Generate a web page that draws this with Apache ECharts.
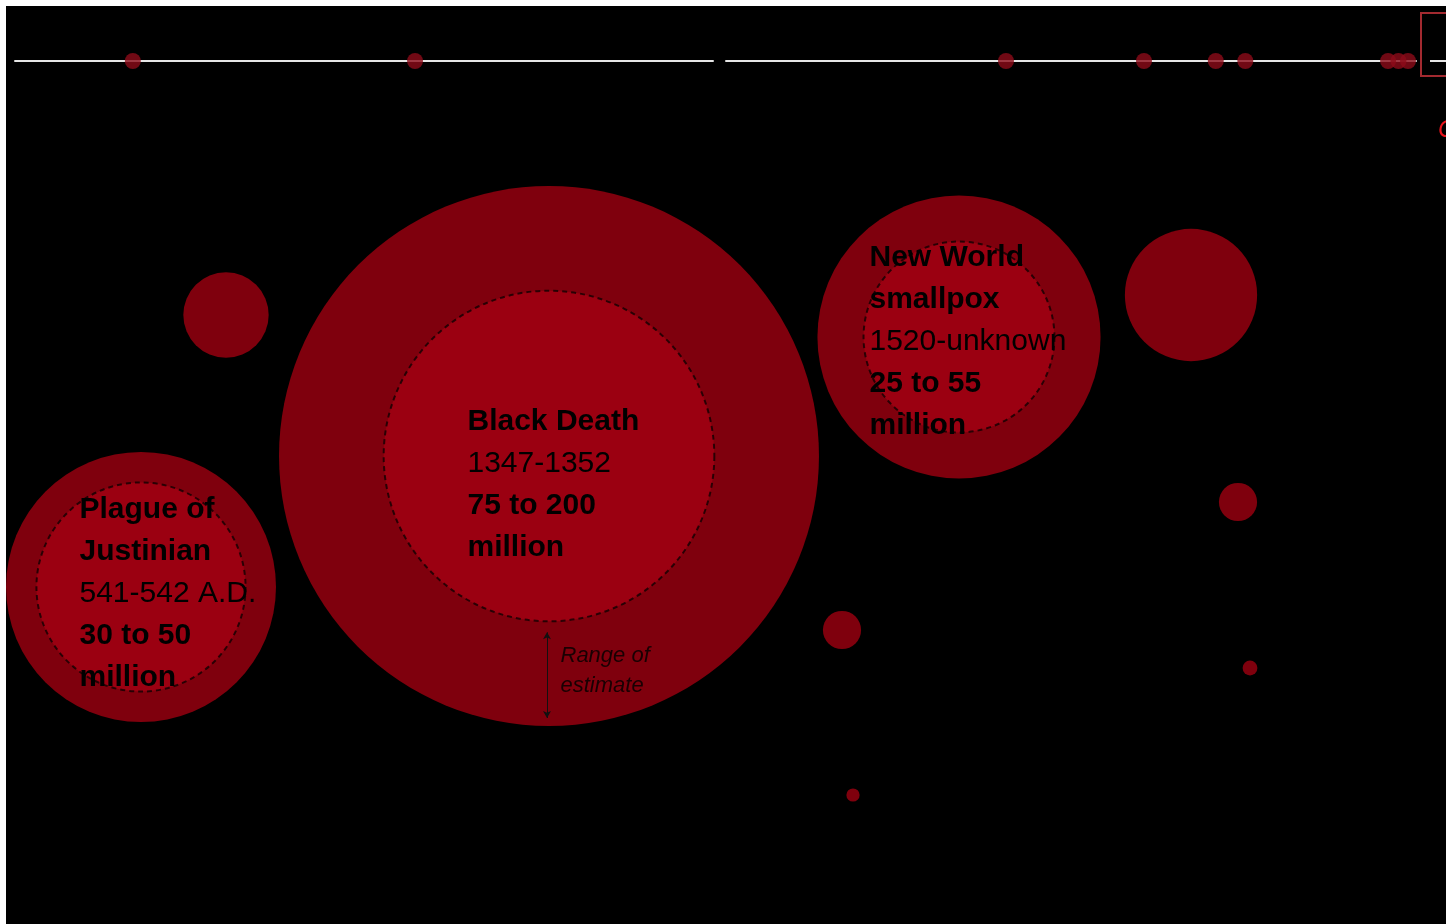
<!DOCTYPE html>
<html>
<head>
<meta charset="utf-8">
<title>Pandemics</title>
<script src="https://cdn.jsdelivr.net/npm/echarts@6.0.0/dist/echarts.min.js"></script>
<style>
  html, body { margin: 0; padding: 0; background: #fff; }
  #chart { position: absolute; left: 6px; top: 6px; width: 1440px; height: 918px; background: #000; }
</style>
</head>
<body>
<div id="chart"></div>
<script>
// timeline, in years, split in two segments
const leftRange = [8, 938];
const rightRange = [996, 1861];
const timelineYears = [165, 541, 1347, 1520, 1610, 1647, 1826, 1839, 1851];

// bubbles: deaths in millions (low / high estimate)
const titles = ['Plague of\nJustinian', 'Black Death', 'New World\nsmallpox', '', '', '', '', '', ''];
const periods = ['541-542 A.D.', '1347-1352', '1520-unknown', '', '', '', '', '', ''];
const deathsLow = [30, 75, 25, 5, 12, 1, 1, 0.15, 0.12];
const deathsHigh = [50, 200, 55, 5, 12, 1, 1, 0.15, 0.12];
// bubble layout (packed by hand in the original)
const bubbleX = [141, 549, 959, 226, 1191, 1238, 842, 1250, 853];
const bubbleY = [587, 456, 337, 315, 295, 502, 630, 668, 795];

const K = 19.09; // px radius per sqrt(million)
const FONT = '"Liberation Sans", Arial, sans-serif';

// where the label block starts, relative to the bubble centre
const labelOffset = [[-61, -98], [-81, -55], [-89, -100]];

const outerData = bubbleX.map((x, i) => [x, bubbleY[i], deathsHigh[i]]);
const innerData = bubbleX.map((x, i) => [x, bubbleY[i], deathsLow[i]])
  .filter((d, i) => deathsLow[i] < deathsHigh[i]);

const labelData = [];
titles.forEach((t, i) => {
  if (!t) return;
  labelData.push({
    value: [bubbleX[i], bubbleY[i]],
    text: t.split('\n').map(s => '{b|' + s + '}').join('\n') + '\n' +
      '{r|' + periods[i] + '}\n' +
      '{b|' + deathsLow[i] + ' to ' + deathsHigh[i] + '}\n{b|million}',
    label: { position: labelOffset[labelData.length] }
  });
});

// range-of-estimate arrow on the Black Death bubble
const bd = 1;
const rIn = K * Math.sqrt(deathsLow[bd]);
const rOut = K * Math.sqrt(deathsHigh[bd]);
const arrowX = bubbleX[bd] - 2;

const dotStyle = { color: '#8d0b19' };
const axisLineStyle = { show: true, onZero: false, lineStyle: { color: '#e6e6e6', width: 2 } };

let myChart = echarts.init(document.getElementById('chart'));

let option = {
  backgroundColor: '#000',
  animation: false,
  grid: [
    { left: 0, top: 0, right: 0, bottom: 0 },
    { left: 9, top: 45, width: 698, height: 10 },
    { left: 720, top: 45, width: 690, height: 10 }
  ],
  xAxis: [
    { gridIndex: 0, type: 'value', min: 6, max: 1446, show: false },
    { gridIndex: 1, type: 'value', min: leftRange[0], max: leftRange[1],
      axisLine: axisLineStyle, axisTick: { show: false }, axisLabel: { show: false }, splitLine: { show: false } },
    { gridIndex: 2, type: 'value', min: rightRange[0], max: rightRange[1],
      axisLine: axisLineStyle, axisTick: { show: false }, axisLabel: { show: false }, splitLine: { show: false } }
  ],
  yAxis: [
    { gridIndex: 0, type: 'value', min: 6, max: 924, inverse: true, show: false },
    { gridIndex: 1, type: 'value', min: 0, max: 1, show: false },
    { gridIndex: 2, type: 'value', min: 0, max: 1, show: false }
  ],
  series: [
    {
      name: 'high',
      type: 'scatter',
      silent: true,
      data: outerData,
      symbolSize: v => 2 * K * Math.sqrt(v[2]),
      itemStyle: { color: '#7f000d', opacity: 1 },
      markLine: {
        silent: true,
        symbol: ['arrow', 'arrow'],
        symbolSize: [6, 7],
        label: { show: false },
        lineStyle: { color: '#111', width: 1, type: 'solid' },
        data: [[
          { coord: [arrowX, bubbleY[bd] + rIn + 11] },
          { coord: [arrowX, bubbleY[bd] + rOut - 8] }
        ]]
      }
    },
    {
      name: 'low',
      type: 'scatter',
      silent: true,
      data: innerData,
      symbolSize: v => 2 * K * Math.sqrt(v[2]),
      itemStyle: {
        color: '#9b0011', opacity: 1,
        borderColor: 'rgba(0,0,0,0.7)', borderWidth: 2, borderType: [5, 4]
      }
    },
    {
      name: 'labels',
      type: 'scatter',
      silent: true,
      z: 5,
      data: labelData,
      symbolSize: 1,
      itemStyle: { color: 'transparent' },
      label: {
        show: true,
        opacity: 1,
        align: 'left',
        verticalAlign: 'top',
        color: '#000',
        formatter: p => p.data.text,
        rich: {
          b: { fontFamily: FONT, fontWeight: 'bold', fontSize: 30, lineHeight: 42, color: '#000' },
          r: { fontFamily: FONT, fontWeight: 'normal', fontSize: 30, lineHeight: 42, color: '#000' }
        }
      }
    },
    {
      name: 'note',
      type: 'scatter',
      silent: true,
      data: [[arrowX + 14, bubbleY[bd] + rIn + 20]],
      symbolSize: 1,
      itemStyle: { color: 'transparent' },
      label: {
        show: true,
        position: [0, 0],
        align: 'left',
        verticalAlign: 'top',
        formatter: 'Range of\nestimate',
        fontFamily: FONT,
        fontStyle: 'italic',
        fontSize: 22,
        lineHeight: 30,
        color: '#000'
      }
    },
    {
      name: 'timeline-left',
      type: 'scatter',
      xAxisIndex: 1, yAxisIndex: 1,
      silent: true,
      symbolSize: 16,
      itemStyle: dotStyle,
      data: timelineYears.filter(y => y <= leftRange[1]).map(y => [y, 0])
    },
    {
      name: 'timeline-right',
      type: 'scatter',
      xAxisIndex: 2, yAxisIndex: 2,
      silent: true,
      symbolSize: 16,
      itemStyle: dotStyle,
      data: timelineYears.filter(y => y >= rightRange[0]).map(y => [y, 0])
    }
  ],
  graphic: [
    { type: 'rect', shape: { x: 1415, y: 7, width: 60, height: 63 },
      style: { fill: 'transparent', stroke: '#a32a30', lineWidth: 2 } },
    { type: 'line', shape: { x1: 1424, y1: 55, x2: 1440, y2: 55 },
      style: { stroke: '#e6e6e6', lineWidth: 2 } },
    { type: 'text', x: 1432, y: 124,
      style: { text: 'COVID-19', fill: '#e8131b', font: 'italic 24px ' + FONT, verticalAlign: 'middle' } }
  ]
};

myChart.setOption(option);
</script>
</body>
</html>
